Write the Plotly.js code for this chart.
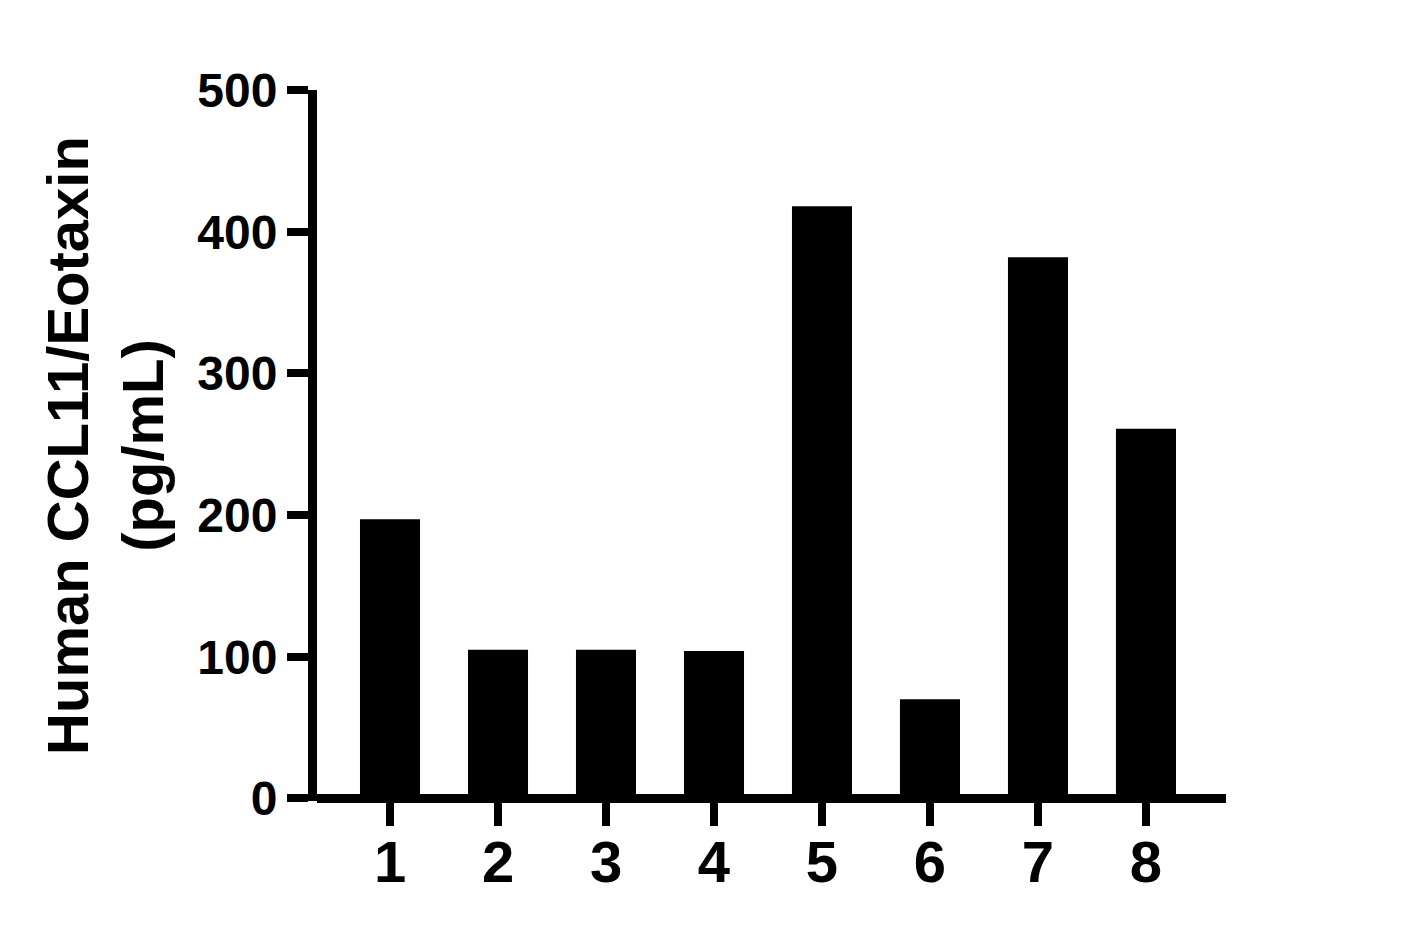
<!DOCTYPE html>
<html>
<head>
<meta charset="utf-8">
<script src="https://cdn.plot.ly/plotly-3.0.1.min.js"></script>
<style>
  html, body { margin: 0; padding: 0; background: #ffffff; }
  #chart { width: 1404px; height: 939px; }
</style>
</head>
<body>
<div id="chart"></div>
<script>
// Sample numbers on the x axis and the measured concentration for each one
const samples = ['1', '2', '3', '4', '5', '6', '7', '8'];
const eotaxin = [197, 105, 105, 104, 418, 70, 382, 261];
const yTicks = [0, 100, 200, 300, 400, 500];

const FONT = 'Liberation Sans, Arial, Helvetica, sans-serif';

const trace = {
    type: 'bar',
    x: samples,
    y: eotaxin,
    width: 0.556,
    marker: { color: '#000000', line: { width: 0 } },
    hoverinfo: 'x+y'
};

const layout = {
    width: 1404,
    height: 939,
    margin: { l: 317, r: 178, t: 90, b: 138 },
    paper_bgcolor: '#ffffff',
    plot_bgcolor: '#ffffff',
    showlegend: false,
    font: { family: FONT, color: '#000000' },
    xaxis: {
        type: 'category',
        range: [-0.676, 7.741],
        showgrid: false,
        zeroline: false,
        showline: false,
        ticks: 'outside',
        ticklen: 24,
        tickwidth: 8,
        tickcolor: '#000000',
        ticklabelstandoff: -14,
        tickfont: { family: FONT, size: 58, weight: 700, color: '#000000' }
    },
    yaxis: {
        // a little below zero so the zero line sits where the x axis is
        range: [-1.8, 500],
        tickvals: yTicks,
        ticktext: yTicks.map(String),
        showgrid: false,
        zeroline: true,
        zerolinecolor: '#000000',
        zerolinewidth: 9,
        showline: true,
        linecolor: '#000000',
        linewidth: 9,
        ticks: 'outside',
        ticklen: 21,
        tickwidth: 8,
        tickcolor: '#000000',
        ticklabelstandoff: 0,
        tickfont: { family: FONT, size: 48, weight: 700, color: '#000000' },
        title: {
            text: 'Human CCL11/Eotaxin<br>(pg/mL)',
            font: { family: FONT, size: 58, weight: 700, color: '#000000' },
            standoff: 18
        }
    }
};

const config = { displayModeBar: false, staticPlot: true };

Plotly.newPlot('chart', [trace], layout, config);
</script>
</body>
</html>
